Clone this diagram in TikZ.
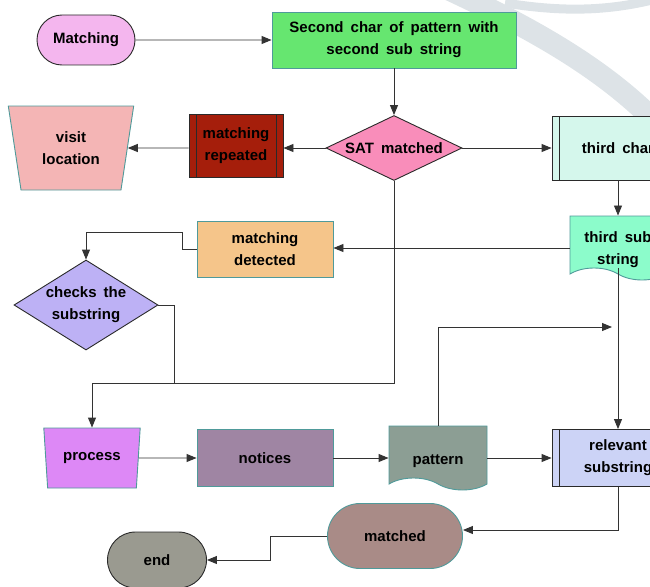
\documentclass[tikz,border=0pt]{standalone}
\usepackage{fontspec}
\setmainfont{Liberation Sans}[WordSpace=1.7]
\usetikzlibrary{shapes}
\usetikzlibrary{arrows.meta}
\definecolor{edgeDark}{HTML}{2A2A2A}
\definecolor{edgeTeal}{HTML}{4F9A9A}
\definecolor{lineGray}{HTML}{333333}
\definecolor{wMark}{HTML}{DDE3E7}
\definecolor{fillMatching}{HTML}{F4B6EE}
\definecolor{fillSecond}{HTML}{66E670}
\definecolor{fillSat}{HTML}{F98DBA}
\definecolor{fillRepeat}{HTML}{A51E0B}
\definecolor{fillVisit}{HTML}{F4B5B5}
\definecolor{fillThirdChar}{HTML}{D5F7EC}
\definecolor{fillThirdSub}{HTML}{8CFCCB}
\definecolor{fillDetect}{HTML}{F5C58A}
\definecolor{fillChecks}{HTML}{BDB1F5}
\definecolor{fillProcess}{HTML}{DD88F6}
\definecolor{fillNotices}{HTML}{9F85A3}
\definecolor{fillPattern}{HTML}{8C9E94}
\definecolor{fillRelevant}{HTML}{CCD3F6}
\definecolor{fillMatched}{HTML}{A98B87}
\definecolor{fillEnd}{HTML}{9A9A90}
\tikzset{
	fcnode/.style = {align=center, inner sep=0pt, text centered, text=black,
		font=\fontsize{15}{22}\selectfont\bfseries, line width=0.9pt},
	fc_box/.style = {fcnode, rectangle, draw=edgeTeal},% plain step
	fc_term/.style = {fcnode, rounded rectangle},% start / end
	fc_dec/.style = {fcnode, diamond, draw=edgeDark},% decision
	fc_io/.style = {fcnode, trapezium, shape border rotate=180,
		trapezium stretches=true, trapezium angle=77.5, draw=edgeTeal},% manual op
	fc_doc/.style = {fcnode, tape, tape bend top=none, tape bend bottom=out and in,
		tape bend height=12pt, text height=29pt, draw=edgeTeal},% document
	fc_sub/.style = {fcnode, rectangle, draw=edgeDark,
		path picture={\draw[edgeDark, line width=0.9pt]
			([xshift=7pt]path picture bounding box.north west) -- ([xshift=7pt]path picture bounding box.south west)
			([xshift=-7pt]path picture bounding box.north east) -- ([xshift=-7pt]path picture bounding box.south east);}},% predefined process
	conn/.style = {draw=lineGray, line width=0.9pt}
}
\begin{document}
\begin{tikzpicture}[x=1pt, y=-1pt, >={Triangle[length=10pt,width=8pt]}]
	\useasboundingbox (0,0) rectangle (650,586);
	\clip (0,0) rectangle (650,586);
	% faint mark behind
	\draw[wMark, line width=22pt] (450,-10) .. controls (540,32) and (612,74) .. (665,132);
	\draw[wMark, line width=9pt] (505,3) .. controls (550,10) and (600,14) .. (660,-2);
	% top part
	\node[fc_term, fill=fillMatching, draw=edgeDark, minimum width=98pt, minimum height=50pt] (matching) at (86,40) {Matching};
	\node[fc_box, fill=fillSecond, minimum width=244pt, minimum height=56pt] (second) at (394,40) {Second char of pattern with\\second sub string};
	\node[fc_dec, fill=fillSat, minimum width=136pt, minimum height=65pt, aspect=2.1] (sat) at (394,148) {SAT matched};
	\node[fc_sub, fill=fillRepeat, minimum width=94pt, minimum height=63pt] (repeated) at (236,146) {matching\\repeated};
	\node[fc_io, fill=fillVisit, minimum width=126pt, minimum height=84pt] (visit) at (71,148) {visit\\location};
	\node[fc_sub, fill=fillThirdChar, minimum width=132pt, minimum height=64pt] (thirdchar) at (618,148) {third char};
	\node[fc_doc, fill=fillThirdSub, minimum width=96pt, minimum height=64pt, text height=28pt, text depth=6pt] (thirdsub) at (618,242)
		{\begin{tabular}{@{}c@{}}third sub\\string\end{tabular}};
	\node[fc_box, fill=fillDetect, minimum width=136pt, minimum height=56pt] (detect) at (265,249) {matching\\detected};
	\node[fc_dec, fill=fillChecks, minimum width=144pt, minimum height=90pt, aspect=1.6] (checks) at (86,305) {checks the\\substring};
	% bottom part
	\node[fc_io, fill=fillProcess, minimum width=97pt, minimum height=60pt] (process) at (92,458) {process};
	\node[fc_box, fill=fillNotices, minimum width=136pt, minimum height=57pt] (notices) at (265,458) {notices};
	\node[fc_doc, fill=fillPattern, minimum width=98pt, minimum height=64pt] (pattern) at (438,452) {pattern};
	\node[fc_sub, fill=fillRelevant, minimum width=132pt, minimum height=57pt] (relevant) at (618,458) {relevant\\substring};
	\node[fc_term, fill=fillMatched, draw=edgeTeal, minimum width=135pt, minimum height=65pt] (matched) at (395,536) {matched};
	\node[fc_term, fill=fillEnd, draw=edgeDark, minimum width=99pt, minimum height=56pt] (finish) at (157,560) {end};
	\coordinate (merge) at (394,383);
	\coordinate (loose) at (612,327);
	% connectors
	\draw[conn,->] (matching) -- (second);
	\draw[conn,->] (second) -- (sat);
	\draw[conn,->] (sat) -- (repeated.east |- sat);
	\draw[conn,->] (repeated.west |- sat) -- (visit);
	\draw[conn,->] (sat) -- (thirdchar);
	\draw[conn,->] (thirdchar) -- (thirdsub);
	\draw[conn,->] ([yshift=-6pt]thirdsub.west) -- ([yshift=-6pt]thirdsub.west -| detect.east);
	\draw[conn,->] (detect.west) -- ++(-14,0) -- ++(0,-17) -| (checks.north);
	\draw[conn] (checks.east) -- ++(16,0) coordinate (cturn) -- (cturn |- merge);
	\draw[conn,->] (sat.south) -- (merge) -| (process.north);
	\draw[conn,->] (process) -- (notices);
	\draw[conn,->] (notices) -- (notices -| pattern.west);
	\draw[conn,->] (pattern.east |- notices) -- (relevant);
	\draw[conn,->] (pattern.north) |- (loose);
	\draw[conn,->] (thirdsub.south) -- (relevant.north);
	\draw[conn,->] (relevant.south) |- ([yshift=6pt]matched.east);
	\draw[conn,->] (matched.west) -- ++(-57,0) |- (finish.east);
\end{tikzpicture}
\end{document}
